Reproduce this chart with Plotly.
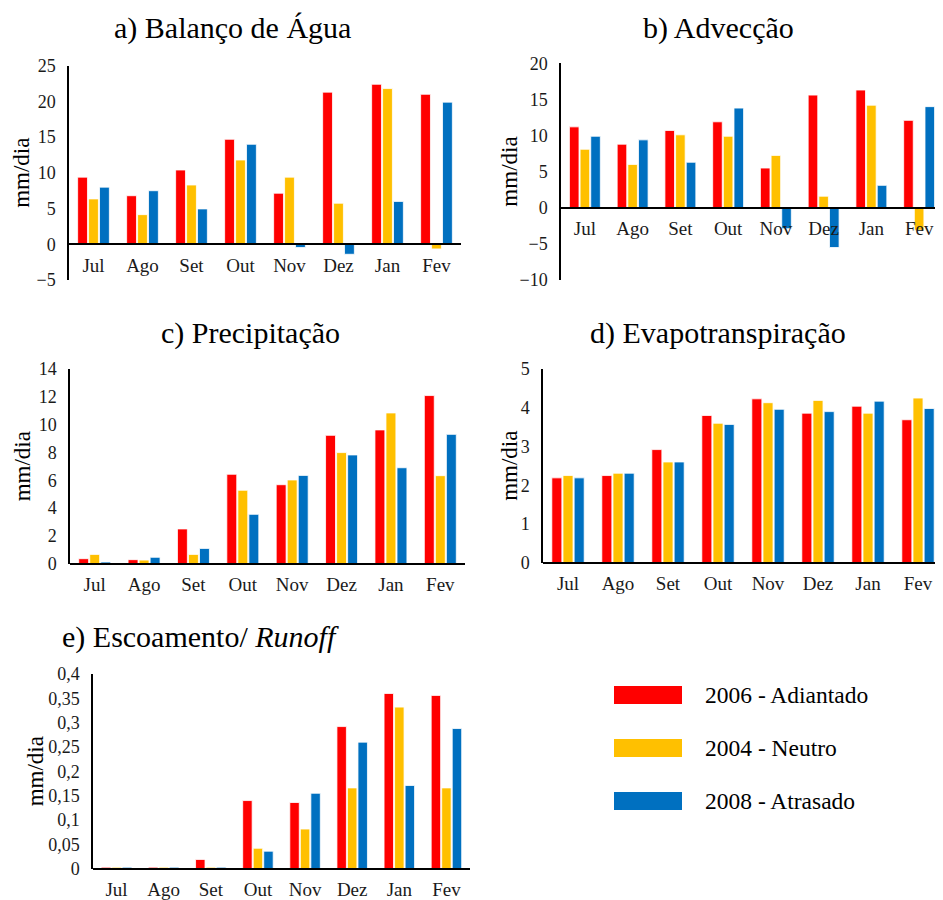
import plotly.graph_objects as go

# the page body adds an 8px margin, so the figure is drawn 8px smaller
OFF = 8
W, H = 943 - OFF, 900 - OFF

meses = ['Jul', 'Ago', 'Set', 'Out', 'Nov', 'Dez', 'Jan', 'Fev']
anos = ['2006 - Adiantado', '2004 - Neutro', '2008 - Atrasado']
cores = ['#FF0000', '#FFC000', '#0070C0']

# a) Balanço de Água
balanco_2006 = [9.4, 6.8, 10.4, 14.7, 7.15, 21.3, 22.4, 21.0]
balanco_2004 = [6.35, 4.15, 8.3, 11.8, 9.4, 5.75, 21.8, -0.65]
balanco_2008 = [8.0, 7.5, 4.95, 14.0, -0.45, -1.4, 6.0, 19.9]

# b) Advecção
adveccao_2006 = [11.2, 8.8, 10.7, 11.9, 5.5, 15.6, 16.3, 12.1]
adveccao_2004 = [8.1, 6.0, 10.1, 9.9, 7.25, 1.6, 14.2, -3.1]
adveccao_2008 = [9.9, 9.4, 6.3, 13.8, -2.9, -5.5, 3.1, 14.0]

# c) Precipitação
precip_2006 = [0.36, 0.29, 2.5, 6.43, 5.68, 9.23, 9.62, 12.09]
precip_2004 = [0.67, 0.26, 0.67, 5.28, 6.02, 7.99, 10.84, 6.33]
precip_2008 = [0.12, 0.46, 1.1, 3.55, 6.35, 7.82, 6.9, 9.3]

# d) Evapotranspiração
evapo_2006 = [2.19, 2.25, 2.92, 3.80, 4.23, 3.86, 4.04, 3.69]
evapo_2004 = [2.25, 2.31, 2.60, 3.60, 4.13, 4.19, 3.86, 4.25]
evapo_2008 = [2.19, 2.31, 2.60, 3.57, 3.96, 3.90, 4.17, 3.98]

# e) Escoamento / Runoff
runoff_2006 = [0.003, 0.003, 0.019, 0.140, 0.136, 0.292, 0.360, 0.356]
runoff_2004 = [0.003, 0.003, 0.003, 0.042, 0.0815, 0.166, 0.332, 0.166]
runoff_2008 = [0.003, 0.003, 0.003, 0.036, 0.155, 0.260, 0.171, 0.288]

paineis = [
    dict(titulo='a) Balanço de Água', series=[balanco_2006, balanco_2004, balanco_2008],
         faixa=[-5, 25], dtick=5, px=(69, 461), py=(65.7, 280), tx=232, ty=28, ytx=22),
    dict(titulo='b) Advecção', series=[adveccao_2006, adveccao_2004, adveccao_2008],
         faixa=[-10, 20], dtick=5, px=(561, 943), py=(63.3, 280), tx=718, ty=28, ytx=510),
    dict(titulo='c) Precipitação', series=[precip_2006, precip_2004, precip_2008],
         faixa=[0, 14], dtick=2, px=(70, 465), py=(369, 563.7), tx=250, ty=333, ytx=22),
    dict(titulo='d) Evapotranspiração', series=[evapo_2006, evapo_2004, evapo_2008],
         faixa=[0, 5], dtick=1, px=(543, 943), py=(369, 562.7), tx=718, ty=333, ytx=510),
    dict(titulo='e) Escoamento/ <i>Runoff</i>', series=[runoff_2006, runoff_2004, runoff_2008],
         faixa=[0, 0.4], dtick=0.05, px=(93, 470), py=(674, 868.7), tx=200, ty=637, ytx=35),
]

fonte = 'Liberation Serif, Times New Roman, serif'


def fx(v):
    return (v - OFF) / W


def fy(v):
    return 1 - (v - OFF) / H


fig = go.Figure()
annotations = []
shapes = []

for i, p in enumerate(paineis):
    n = '' if i == 0 else str(i + 1)
    xd = [fx(p['px'][0]), min(1, fx(p['px'][1]))]
    yd = [fy(p['py'][1]), fy(p['py'][0])]
    r0, r1 = p['faixa']
    pos_zero = yd[0] + (0 - r0) / (r1 - r0) * (yd[1] - yd[0])

    for serie, nome, cor in zip(p['series'], anos, cores):
        fig.add_trace(go.Bar(
            x=meses, y=serie, name=nome, marker_color=cor,
            marker_line=dict(color='white', width=0.8),
            xaxis='x' + n, yaxis='y' + n, showlegend=False,
        ))

    fig.layout['xaxis' + n] = dict(
        domain=xd, anchor='free', position=pos_zero,
        showline=True, linecolor='black', linewidth=1.5,
        showgrid=False, ticks='', ticklabelstandoff=4,
        tickfont=dict(family=fonte, size=19, color='#1a1a1a'),
        automargin=False, fixedrange=True,
    )
    fig.layout['yaxis' + n] = dict(
        domain=yd, anchor='x' + n, range=p['faixa'], dtick=p['dtick'],
        showline=True, linecolor='black', linewidth=1.5,
        showgrid=False, zeroline=False, ticks='', ticklabelstandoff=8,
        tickfont=dict(family=fonte, size=18, color='#1a1a1a'),
        automargin=False, fixedrange=True,
    )

    annotations.append(dict(
        text=p['titulo'], x=fx(p['tx']), y=fy(p['ty']),
        xref='paper', yref='paper', showarrow=False,
        xanchor='center', yanchor='middle',
        font=dict(family=fonte, size=30, color='black'),
    ))
    annotations.append(dict(
        text='mm/dia', x=fx(p['ytx']), y=(yd[0] + yd[1]) / 2,
        xref='paper', yref='paper', showarrow=False, textangle=-90,
        xanchor='center', yanchor='middle',
        font=dict(family=fonte, size=23, color='black'),
    ))

# legenda
leg_y = [695, 748, 801]
for nome, cor, yy in zip(anos, cores, leg_y):
    shapes.append(dict(
        type='rect', xref='paper', yref='paper',
        x0=fx(614), x1=fx(682), y0=fy(yy + 9), y1=fy(yy - 9),
        fillcolor=cor, line=dict(width=0),
    ))
    annotations.append(dict(
        text=nome, x=fx(703), y=fy(yy), xref='paper', yref='paper',
        showarrow=False, xanchor='left', yanchor='middle',
        font=dict(family=fonte, size=23.5, color='black'),
    ))

fig.update_layout(
    width=W, height=H,
    margin=dict(l=0, r=0, t=0, b=0),
    paper_bgcolor='white', plot_bgcolor='white',
    font=dict(family=fonte),
    barmode='group', bargap=0.33, bargroupgap=0.1,
    separators=',.',
    annotations=annotations, shapes=shapes,
    showlegend=False,
)

fig.write_html("out.html")
